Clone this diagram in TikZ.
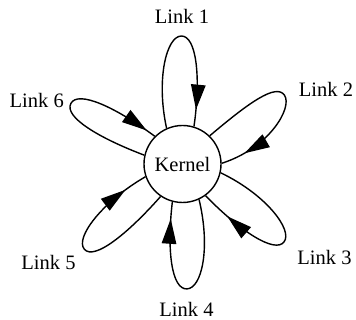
\documentclass[tikz,border=0pt]{standalone}
\usepackage{fontspec}
\setmainfont{Liberation Serif}
\usetikzlibrary{arrows.meta,calc,decorations.markings}
\begin{document}
\begin{tikzpicture}[x=1pt,y=1pt,
  line width=1.4pt,
  kernelnode/.style={circle,draw,minimum size=77pt,inner sep=0pt,font=\fontsize{20.5}{24}\selectfont},
  linklabel/.style={anchor=base,inner sep=0pt,font=\fontsize{20.5}{24}\selectfont},
  petal/.style={postaction={decorate},decoration={markings,
    mark=at position -#1 with {\arrow{Triangle[length=25pt,width=14.5pt]}}}}
]
\useasboundingbox (0,0) rectangle (356,320);
\node[kernelnode] (kernel) at (182.5,156) {Kernel};
\node[linklabel] (l1) at (182,296) {Link 1};
\node[linklabel] (l2) at (326,223) {Link 2};
\node[linklabel] (l3) at (324.5,55) {Link 3};
\node[linklabel] (l4) at (186.5,3) {Link 4};
\node[linklabel] (l5) at (48.5,50) {Link 5};
\node[linklabel] (l6) at (36.7,212) {Link 6};
\foreach \n/\t/\r/\s/\e/\g in {1/90.5/128/114/73/17pt, 2/34/123/46.5/1.5/25pt, 3/-37.5/128/-13.5/-54/30pt, 4/-88/125/-65/-105.5/17pt, 5/-139/130/-124/-161/24pt, 6/151.5/127/167/135.5/10pt}{
  \pgfmathsetmacro\oa{(\s+\t)/2}
  \pgfmathsetmacro\ia{(\e+\t)/2}
  \pgfmathsetmacro\pa{\t+90}
  \pgfmathsetmacro\pb{\t-90}
  \coordinate (a\n) at ($(kernel.center)+(\t:\r)$);
  \draw[petal=\g] (kernel.\s) to[out=\oa,in=\pa,out distance=50pt,in distance=15pt] (a\n)
     to[out=\pb,in=\ia,out distance=15pt,in distance=50pt] (kernel.\e);
}
\end{tikzpicture}
\end{document}
